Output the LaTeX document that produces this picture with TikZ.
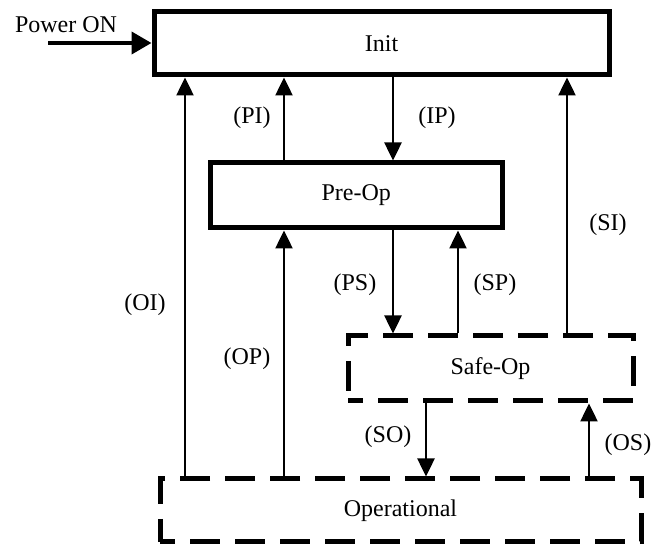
\documentclass[tikz,border=0pt]{standalone}
\usepackage{fontspec}
\setmainfont{Liberation Serif}
\usetikzlibrary{arrows.meta}
\begin{document}
\begin{tikzpicture}[x=1pt,y=-1pt,
  every node/.style={font=\fontsize{24}{27}\selectfont},
  solidstate/.style={draw,line width=5pt,inner sep=0pt,rectangle},
  dashstate/.style={draw,line width=5pt,inner sep=0pt,rectangle,dash pattern=on 30pt off 15pt,dash phase=15pt},
  arr/.style={line width=2.5pt,-{Triangle[length=18pt,width=17pt]}},
  powerarr/.style={line width=4pt,-{Triangle[length=20pt,width=22pt]}},
  lbl/.style={inner sep=0pt}
]
\useasboundingbox (0,0) rectangle (657,545);
% states
\node[solidstate,minimum width=455pt,minimum height=63pt] (init) at (381.5,43.5) {Init};
\node[solidstate,minimum width=291.5pt,minimum height=65pt] (preop) at (356.25,195.5) {Pre-Op};
\node[dashstate,minimum width=285pt,minimum height=65pt] (safeop) at (490.5,368.5) {Safe-Op};
\node[dashstate,minimum width=481pt,minimum height=63pt] (op) at (400.5,510.5) {Operational};
% power on
\node[lbl] (pwr) at (66,25) {Power ON};
\coordinate (pwrstart) at (48,43);
\draw[powerarr] (pwrstart) -- (pwrstart -| init.west);
% x positions
\coordinate (xOI) at (185,0);
\coordinate (xPI) at (284,0);
\coordinate (xIP) at (393,0);
\coordinate (xSI) at (567,0);
\coordinate (xSP) at (458,0);
\coordinate (xSO) at (426,0);
\coordinate (xOS) at (589,0);
% transitions
\draw[arr] (op.north -| xOI) -- (init.south -| xOI);
\draw[arr] (preop.north -| xPI) -- (init.south -| xPI);
\draw[arr] (init.south -| xIP) -- (preop.north -| xIP);
\draw[arr] (safeop.north -| xSI) -- (init.south -| xSI);
\draw[arr] (op.north -| xPI) -- (preop.south -| xPI);
\draw[arr] (preop.south -| xIP) -- (safeop.north -| xIP);
\draw[arr] (safeop.north -| xSP) -- (preop.south -| xSP);
\draw[arr] (safeop.south -| xSO) -- (op.north -| xSO);
\draw[arr] (op.north -| xOS) -- (safeop.south -| xOS);
% labels
\node[lbl] (lOI) at (145,305) {(OI)};
\node[lbl] (lPI) at (252,118) {(PI)};
\node[lbl] (lIP) at (437,118) {(IP)};
\node[lbl] (lSI) at (608,225) {(SI)};
\node[lbl] (lOP) at (247,359) {(OP)};
\node[lbl] (lPS) at (355,285) {(PS)};
\node[lbl] (lSP) at (495,285) {(SP)};
\node[lbl] (lSO) at (388,437) {(SO)};
\node[lbl] (lOS) at (628,445) {(OS)};
\end{tikzpicture}
\end{document}
